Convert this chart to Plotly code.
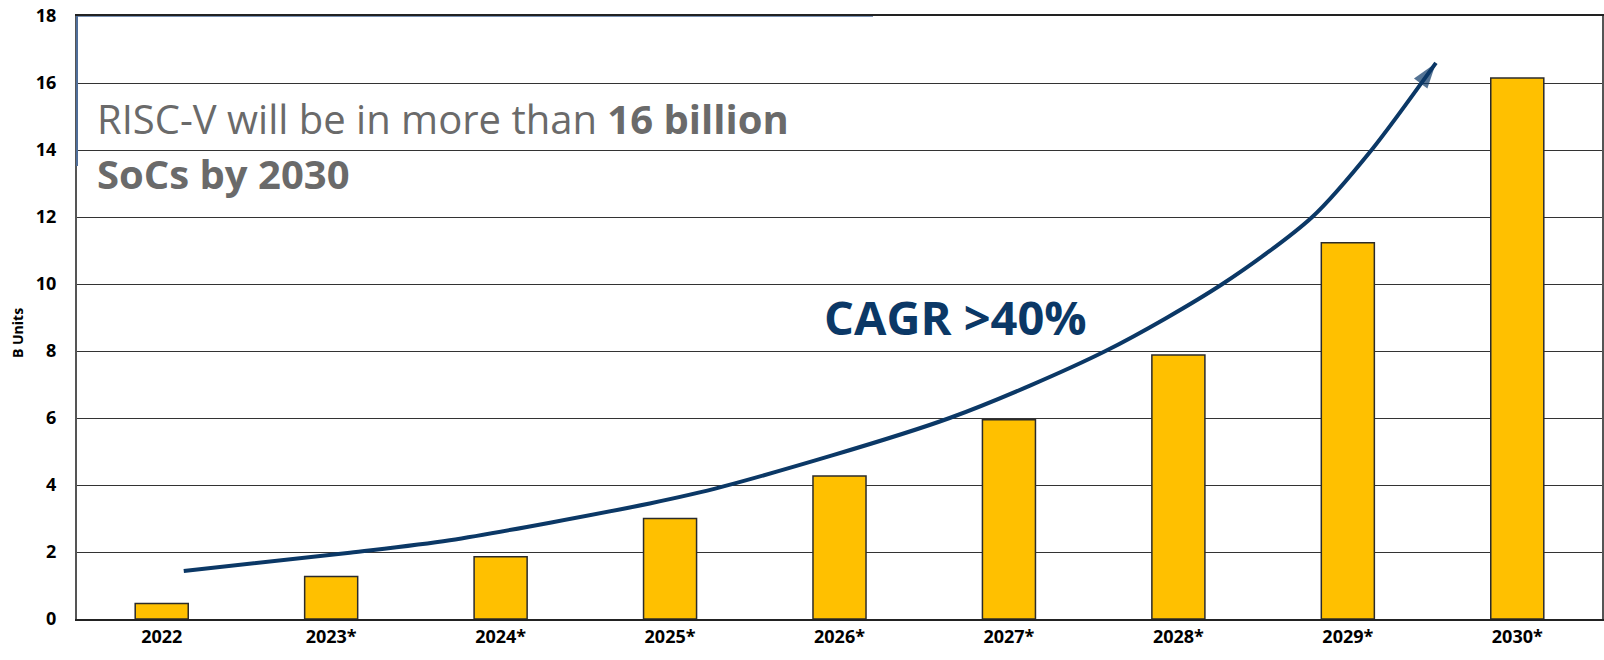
import plotly.graph_objects as go

# ---- data ----
categories = ["2022", "2023*", "2024*", "2025*", "2026*", "2027*", "2028*", "2029*", "2030*"]
units_b = [0.46, 1.27, 1.86, 3.0, 4.27, 5.95, 7.88, 11.23, 16.15]

# trend arrow path (x in category index units, y in B units)
trend_x = [0.13, 1.11, 1.70, 2.88, 3.31, 4.65, 5.57, 6.26, 6.79, 7.14, 7.52]
trend_y = [1.43, 1.98, 2.35, 3.45, 3.95, 6.0, 8.0, 10.0, 12.0, 14.0, 16.6]

y_ticks = list(range(0, 19, 2))

NAVY = "#0B3866"
W, H = 1604, 660
ML, MR, MT, MB = 77, 2, 16, 41

fig = go.Figure()

fig.add_trace(go.Bar(
    x=list(range(len(categories))), y=units_b,
    marker=dict(color="#FFC000", line=dict(color="#2b2b2b", width=1.5)),
    hoverinfo="skip", showlegend=False,
))

sizes = [0] * (len(trend_x) - 1) + [27]
fig.add_trace(go.Scatter(
    x=trend_x, y=trend_y, mode="lines+markers",
    line=dict(color=NAVY, width=4, shape="spline", smoothing=0.8),
    marker=dict(symbol="arrow", size=sizes, color=NAVY, angleref="previous",
                line=dict(width=0)),
    hoverinfo="skip", showlegend=False, cliponaxis=False,
))

fig.update_layout(
    width=W, height=H,
    margin=dict(l=ML, r=MR, t=MT, b=MB, autoexpand=False),
    paper_bgcolor="white", plot_bgcolor="white",
    bargap=0.687,
    font=dict(family="Open Sans", color="black"),
)

fig.update_xaxes(
    range=[-0.5, len(categories) - 0.5],
    tickmode="array", tickvals=list(range(len(categories))), ticktext=categories,
    tickfont=dict(family="Open Sans", size=18, color="black", weight="bold"),
    showgrid=False, showline=True, linecolor="#222", linewidth=2,
    mirror=True, ticks="", zeroline=False, ticklabeloverflow="allow",
)
fig.update_yaxes(
    range=[0, 18],
    tickmode="array", tickvals=y_ticks, ticktext=[str(v) for v in y_ticks],
    tickfont=dict(family="Open Sans", size=18, color="black", weight="bold"),
    showgrid=True, gridcolor="#333", gridwidth=1.4,
    showline=True, linecolor="#555", linewidth=2, mirror=True,
    ticks="", zeroline=False, ticklabelstandoff=15, ticklabeloverflow="allow",
)

PW = W - ML - MR
PH = H - MT - MB

def px_x(p):
    return (p - ML) / PW

def px_y(p):
    return (H - MB - p) / PH

# white text box covering gridlines at upper-left
fig.add_shape(type="rect", xref="paper", yref="y", x0=0, x1=px_x(879), y0=11.0, y1=18,
              fillcolor="white", line=dict(width=0), layer="between")
fig.add_shape(type="line", xref="paper", yref="y", x0=0, x1=px_x(873), y0=18, y1=18,
              line=dict(color="#4F6E9A", width=1.5), layer="above")
fig.add_shape(type="line", xref="paper", yref="paper", x0=0, x1=0, y0=1, y1=px_y(166),
              line=dict(color="#4F6E9A", width=2), layer="above")

fig.add_annotation(
    text="RISC-V will be in more than <b>16 billion</b>",
    xref="paper", yref="paper", x=px_x(95), y=px_y(118),
    xanchor="left", yanchor="middle", showarrow=False,
    font=dict(family="Open Sans", size=40, color="#6a6a6a"),
)
fig.add_annotation(
    text="<b>SoCs by 2030</b>",
    xref="paper", yref="paper", x=px_x(95), y=px_y(173),
    xanchor="left", yanchor="middle", showarrow=False,
    font=dict(family="Open Sans", size=40, color="#6a6a6a"),
)
fig.add_annotation(
    text="<b>CAGR &gt;40%</b>",
    xref="paper", yref="paper", x=px_x(822), y=px_y(317),
    xanchor="left", yanchor="middle", showarrow=False,
    font=dict(family="Open Sans", size=47, color=NAVY),
)
fig.add_annotation(
    text="<b>B Units</b>",
    xref="paper", yref="paper", x=px_x(18), y=px_y(333),
    xanchor="center", yanchor="middle", showarrow=False, textangle=-90,
    font=dict(family="Open Sans", size=14, color="black"),
)

fig.write_html("out.html", post_script="document.body.style.margin='0';",
               config={"displayModeBar": False})
